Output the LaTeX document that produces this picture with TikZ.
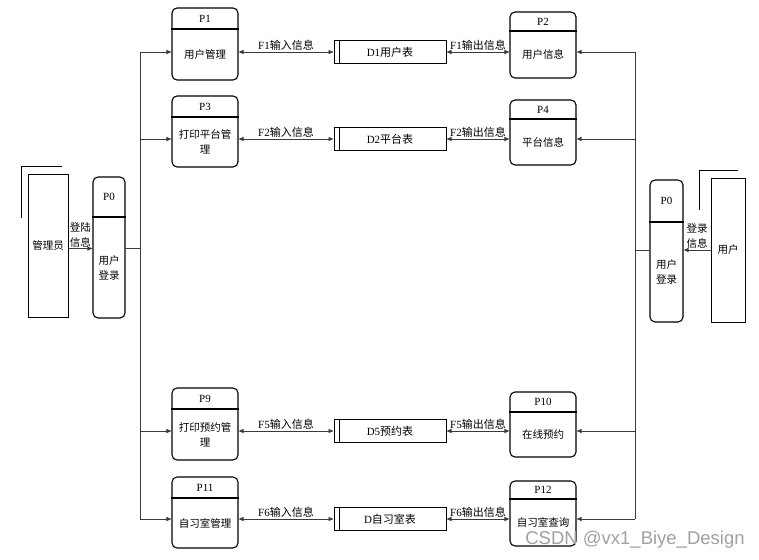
\documentclass[tikz,border=0pt]{standalone}
\usepackage{fontspec}
\setmainfont{Liberation Serif}
\newfontfamily\cjk{Noto Sans CJK SC}
\newfontfamily\marksans{Liberation Sans}
\usetikzlibrary{arrows.meta,calc,positioning}
\definecolor{linegrey}{HTML}{3A3A3A}
\definecolor{markgrey}{HTML}{A0A0A0}
\tikzset{
  proc/.style={draw,line width=1.1pt,rounded corners=5pt,minimum width=66pt,inner sep=0pt},
  procline/.style={draw,line width=1.1pt},
  idtext/.style={font=\fontsize{11}{12}\selectfont,inner sep=0pt},
  proctext/.style={font=\fontsize{10.5}{15}\selectfont\cjk,align=center,inner sep=0pt},
  store/.style={draw,line width=1pt,minimum width=112pt,minimum height=23pt,inner sep=0pt,
    font=\fontsize{11}{12}\selectfont},
  entity/.style={draw,line width=1pt,inner sep=0pt,font=\fontsize{10.5}{12}\selectfont\cjk},
  flow/.style={linegrey,line width=0.9pt,-{Triangle[length=5pt,width=4pt]}},
  dflow/.style={linegrey,line width=0.9pt,{Triangle[length=5pt,width=4pt]}-{Triangle[length=5pt,width=4pt]}},
  bus/.style={linegrey,line width=0.9pt},
  flowlabel/.style={font=\fontsize{11}{12}\selectfont,inner sep=1pt,text=black},
}
\newcommand{\drawproc}[8][66]{% [width]{name}{x}{top}{divider}{bottom}{id}{text}
  \node[proc,minimum width=#1pt,minimum height={#6-#4}] (#2) at (#3,{(#4+#6)/2}) {};
  \draw[procline] (#2.west |- 0,#5) -- (#2.east |- 0,#5);
  \node[idtext] (#2-id) at (#3,{(#4+#5)/2}) {#7};
  \node[proctext] (#2-txt) at (#3,{(#5+#6)/2}) {#8};
}
\newcommand{\drawstore}[4]{% {name}{x}{y}{text}
  \node[store] (#1) at (#2,#3) {#4};
  \draw[procline,line width=1pt] ([xshift=6pt]#1.north west) -- ([xshift=6pt]#1.south west);
}

\begin{document}
\begin{tikzpicture}[x=1pt,y=-1pt]
  \useasboundingbox (0,0) rectangle (759,559);
  % External entities
  \node[entity,minimum width=40pt,minimum height=143pt] (adm) at (48,245.5) {管理员};
  \draw[line width=1pt] ([shift={(-6,44)}]adm.north west) -- ([shift={(-6,-7)}]adm.north west)
    -- ([shift={(34,-7)}]adm.north west);
  \node[entity,minimum width=34pt,minimum height=144pt] (user) at (728,250) {用户};
  \draw[line width=1pt] ([shift={(-11,32)}]user.north west) -- ([shift={(-11,-7)}]user.north west)
    -- ([shift={(27,-7)}]user.north west);
  % Login processes
  \drawproc[32]{p0l}{109}{177}{217}{318}{P0}{用户\\登录}
  \drawproc[33]{p0r}{666.5}{180}{222}{322}{P0}{用户\\登录}
  % Left column
  \drawproc{p1}{205}{8}{29}{80}{P1}{用户管理}
  \drawproc{p3}{205}{96}{117}{167}{P3}{打印平台管\\理}
  \drawproc{p9}{205}{388}{409}{460}{P9}{打印预约管\\理}
  \drawproc{p11}{205}{477}{498}{548}{P11}{自习室管理}
  % Right column
  \drawproc{p2}{543}{12}{31}{78}{P2}{用户信息}
  \drawproc{p4}{543}{100}{119}{165}{P4}{平台信息}
  \drawproc{p10}{543}{392}{412}{457}{P10}{在线预约}
  \drawproc{p12}{543}{481}{499}{546}{P12}{自习室查询}
  % Data stores
  \drawstore{d1}{390}{52}{D1{\cjk 用户表}}
  \drawstore{d2}{390}{139}{D2{\cjk 平台表}}
  \drawstore{d5}{390}{431}{D5{\cjk 预约表}}
  \drawstore{d6}{390}{519}{D{\cjk 自习室表}}
  % Buses
  \coordinate (lbus) at (140,0);
  \coordinate (rbus) at (635,0);
  \coordinate (adm-out) at ([yshift=-3pt]adm.east);
  \draw[flow] (adm-out) -- (adm-out -| p0l.west)
    node[midway,above,flowlabel,align=center,font=\fontsize{10.5}{15}\selectfont\cjk] {登陆\\信息};
  \draw[bus] (adm-out -| p0l.east) -- (adm-out -| lbus);
  \draw[bus] (lbus |- d1) -- (lbus |- d6);
  \draw[flow] (user.west) -- (user.west -| p0r.east)
    node[midway,above,flowlabel,align=center,font=\fontsize{10.5}{15}\selectfont\cjk] {登录\\信息};
  \draw[bus] (user.west -| p0r.west) -- (user.west -| rbus);
  \draw[bus] (rbus |- d1) -- (rbus |- d6);
  % Rows
  \foreach \pl/\pr/\d/\n in {p1/p2/d1/1,p3/p4/d2/2,p9/p10/d5/5,p11/p12/d6/6}{
    \draw[flow] (lbus |- \d) -- (\pl.west |- \d);
    \draw[flow] (rbus |- \d) -- (\pr.east |- \d);
    \draw[dflow] (\pl.east |- \d) -- (\d.west) node[midway,above,flowlabel] {F\n{\cjk 输入信息}};
    \draw[dflow] (\d.east) -- (\pr.west |- \d) node[midway,above,flowlabel] {F\n{\cjk 输出信息}};
  }
  % Watermark
  \node[font=\fontsize{18.5}{20}\selectfont\marksans,text=markgrey] (mark) at (635,540) {CSDN @vx1\_Biye\_Design};
\end{tikzpicture}
\end{document}
